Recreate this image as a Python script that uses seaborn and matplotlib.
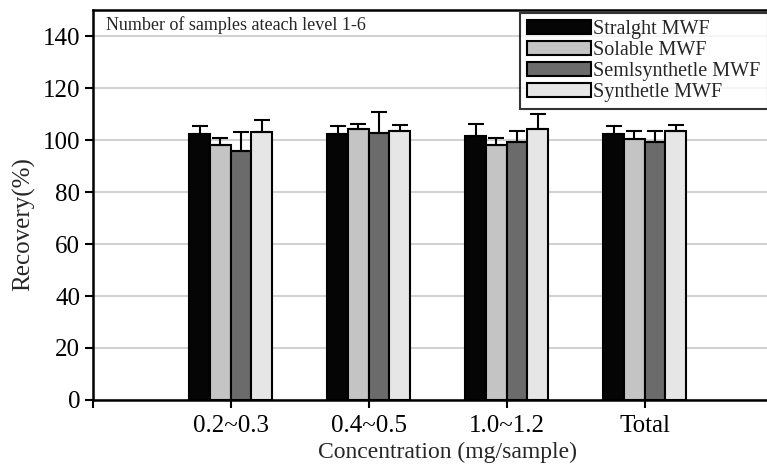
import numpy as np
import pandas as pd
import matplotlib
matplotlib.use("Agg")
import matplotlib.pyplot as plt
import seaborn as sns

# Data
groups = ["0.2~0.3", "0.4~0.5", "1.0~1.2", "Total"]
fluids = ["Stralght MWF", "Solable MWF", "Semlsynthetle MWF", "Synthetle MWF"]

straight = [102.3, 102.3, 101.6, 102.3]
soluble = [98.1, 104.2, 98.1, 100.4]
semisynth = [95.9, 102.7, 99.1, 99.1]
synthetic = [102.9, 103.6, 104.2, 103.6]

straight_err = [3.2, 2.2, 4.5, 2.9]
soluble_err = [2.7, 1.9, 0.0, 3.2]
semisynth_err = [7.0, 7.9, 4.5, 7.0]
synthetic_err = [4.8, 2.3, 5.8, 3.8]

colors = ["#050505", "#c4c4c4", "#6b6b6b", "#e6e6e6"]

# Build long table
means = [straight, soluble, semisynth, synthetic]
errs = [straight_err, soluble_err, semisynth_err, synthetic_err]
rows = []
for f, m, e in zip(fluids, means, errs):
    for g, v, s in zip(groups, m, e):
        rows.append({"group": g, "fluid": f, "recovery": v, "err": s})
df = pd.DataFrame(rows)

sns.set_style("white")
plt.rcParams["font.family"] = ["Liberation Serif", "DejaVu Serif"]

fig = plt.figure(figsize=(7.67, 4.67), dpi=100)
ax = fig.add_axes([0.121, 0.1435, 0.885, 0.835])

# empty first slot so the groups start one step right of the y axis
order = [""] + groups
sns.barplot(data=df, x="group", y="recovery", hue="fluid", order=order,
            hue_order=fluids, palette=colors, errorbar=None, width=0.6,
            edgecolor="black", linewidth=1.5, ax=ax, zorder=3)

# upper error bars
for cont, fluid in zip(ax.containers, fluids):
    sub = df[df["fluid"] == fluid].set_index("group")
    for bar in cont:
        h = bar.get_height()
        if np.isnan(h):
            continue
        xc = bar.get_x() + bar.get_width() / 2
        g = sub.index[np.argmin(np.abs(sub["recovery"].values - h))]
        e = sub.loc[g, "err"]
        if e > 0:
            ax.errorbar(xc, h, yerr=[[0], [e]], fmt="none", ecolor="black",
                        elinewidth=1.5, capsize=6, capthick=1.5, zorder=4)

ax.set_xlim(0, 4.92)
ax.set_ylim(0, 150)
ax.set_yticks(range(0, 141, 20))
ax.yaxis.grid(True, color="#d2d2d2", linewidth=1.5, zorder=0)
ax.set_axisbelow(True)

for side in ["left", "bottom", "top"]:
    ax.spines[side].set_visible(True)
    ax.spines[side].set_color("black")
    ax.spines[side].set_linewidth(1.8)
ax.spines["right"].set_visible(False)

ax.tick_params(axis="both", direction="out", length=6, width=1.5,
               colors="black", bottom=True, left=True)
ax.tick_params(axis="y", labelsize=18, pad=3)
ax.tick_params(axis="x", labelsize=18, pad=5)
ax.set_ylabel("Recovery(%)", fontsize=18)
ax.set_xlabel("Concentration (mg/sample)", fontsize=17)
ax.yaxis.set_label_coords(-0.085, 0.45)
ax.xaxis.set_label_coords(0.523, -0.108)

ax.text(0.02, 0.985, "Number of samples ateach level 1-6", transform=ax.transAxes,
        fontsize=13, ha="left", va="top")

leg = ax.legend(loc="upper left", bbox_to_anchor=(0.629, 0.993), fontsize=14.5,
                frameon=True, fancybox=False, edgecolor="black",
                handlelength=3.2, handleheight=0.7, labelspacing=0.1,
                handletextpad=0.1, borderpad=0.35, borderaxespad=0)
leg.get_frame().set_linewidth(1.5)

plt.savefig("out.png", dpi=100)
